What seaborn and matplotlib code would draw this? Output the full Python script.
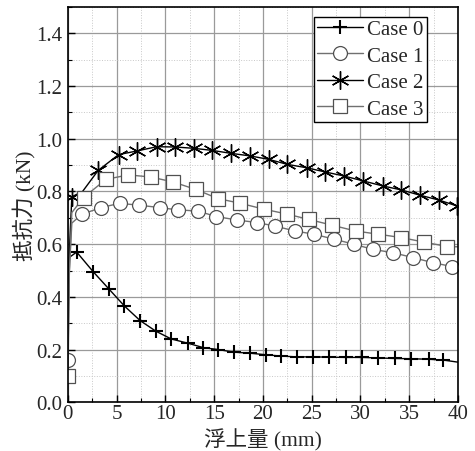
import numpy as np
import pandas as pd
import matplotlib
matplotlib.use("Agg")
import matplotlib.pyplot as plt
import seaborn as sns
from matplotlib.ticker import MultipleLocator

sns.set_style("ticks")
plt.rcParams['font.family'] = ['Liberation Serif', 'Noto Sans CJK JP']

# --- data (x in mm, y in kN) ---
case0_x = [0, 0.15, 0.9, 2.6, 4.2, 5.8, 7.4, 9.0, 10.6, 12.3, 13.9, 15.4, 17.0, 18.7, 20.3,
           21.9, 23.5, 25.1, 26.8, 28.5, 30.2, 31.8, 33.5, 35.2, 37.0, 38.5, 40]
case0_y = [0.30, 0.55, 0.57, 0.495, 0.43, 0.365, 0.31, 0.27, 0.24, 0.224, 0.207, 0.20, 0.19,
           0.186, 0.18, 0.175, 0.172, 0.172, 0.171, 0.170, 0.170, 0.168, 0.166, 0.165, 0.163,
           0.16, 0.152]
case0_marks = list(range(2, 26))

case1_x = [0, 0.15, 0.4, 1.4, 3.4, 5.3, 7.3, 9.4, 11.3, 13.3, 15.2, 17.3, 19.4, 21.2, 23.3,
           25.2, 27.3, 29.3, 31.3, 33.3, 35.4, 37.4, 39.4, 40]
case1_y = [0.16, 0.50, 0.68, 0.713, 0.739, 0.755, 0.748, 0.739, 0.73, 0.726, 0.705, 0.692,
           0.682, 0.669, 0.65, 0.638, 0.619, 0.60, 0.58, 0.568, 0.549, 0.53, 0.515, 0.51]
case1_marks = [0] + list(range(3, 23))

case2_x = [0, 0.4, 1.5, 3.1, 5.2, 7.1, 9.1, 11.0, 12.9, 14.8, 16.7, 18.7, 20.6, 22.5, 24.5,
           26.4, 28.3, 30.3, 32.3, 34.2, 36.1, 38.1, 39.9]
case2_y = [0.45, 0.78, 0.80, 0.88, 0.94, 0.954, 0.970, 0.969, 0.964, 0.956, 0.945, 0.935,
           0.922, 0.903, 0.89, 0.874, 0.859, 0.84, 0.821, 0.806, 0.786, 0.767, 0.745]
case2_marks = [1] + list(range(3, 23))

case3_x = [0, 0.15, 0.4, 1.6, 3.9, 6.2, 8.5, 10.8, 13.1, 15.4, 17.7, 20.1, 22.5, 24.7, 27.1,
           29.5, 31.8, 34.2, 36.5, 38.9, 40]
case3_y = [0.10, 0.50, 0.72, 0.777, 0.846, 0.863, 0.855, 0.836, 0.808, 0.773, 0.755, 0.733,
           0.714, 0.694, 0.672, 0.650, 0.638, 0.625, 0.608, 0.591, 0.59]
case3_marks = [0] + list(range(3, 20))

labels = ["Case 0", "Case 1", "Case 2", "Case 3"]

fig = plt.figure(figsize=(4.75, 4.52), dpi=100)
ax = fig.add_axes([0.143, 0.108, 0.821, 0.874])

series = [
    (case0_x, case0_y, case0_marks, dict(color="black", marker="+", markersize=10, mew=1.5,
                                         mec="black")),
    (case1_x, case1_y, case1_marks, dict(color="#707070", marker="o", markersize=10, mew=0.9,
                                         mfc="white", mec="#505050")),
    (case2_x, case2_y, case2_marks, dict(color="black", marker=(6, 2, 0), markersize=13,
                                         mew=1.0, mec="black")),
    (case3_x, case3_y, case3_marks, dict(color="#707070", marker="s", markersize=9.5, mew=0.9,
                                         mfc="white", mec="#505050")),
]

for (xs, ys, marks, style), lab in zip(series, labels):
    df = pd.DataFrame({"x": xs, "y": ys})
    sns.lineplot(data=df, x="x", y="y", ax=ax, label=lab, lw=1.0, markevery=marks,
                 estimator=None, sort=False, clip_on=True, **style)

ax.set_xlim(0, 40)
ax.set_ylim(0, 1.5)
ax.xaxis.set_major_locator(MultipleLocator(5))
ax.xaxis.set_minor_locator(MultipleLocator(2.5))
ax.yaxis.set_minor_locator(MultipleLocator(0.1))
ax.set_yticks(np.arange(0, 1.41, 0.2))
ax.yaxis.set_major_formatter(matplotlib.ticker.FormatStrFormatter('%.1f'))
ax.grid(which="major", color="#9a9a9a", lw=0.9, ls="-")
ax.grid(which="minor", color="#c8c8c8", lw=0.7, ls=":")
ax.set_axisbelow(True)
ax.tick_params(which="both", direction="in", top=False, right=False, labelsize=15,
               color="black")
ax.tick_params(axis="x", pad=1)
ax.tick_params(axis="y", pad=4)
ax.tick_params(which="major", length=5, width=1)
ax.tick_params(which="minor", length=3, width=0.8)
for s in ax.spines.values():
    s.set_color("black")
    s.set_linewidth(1.2)

ax.set_xlabel("浮上量 (mm)", fontsize=15.5, labelpad=4)
ax.set_ylabel("抵抗力 (kN)", fontsize=15.5, labelpad=0)

leg = ax.legend(loc="upper right", bbox_to_anchor=(0.92, 0.976), fontsize=15,
                frameon=True, fancybox=False, edgecolor="black", framealpha=1,
                handlelength=2.2, handletextpad=0.2, borderpad=0.15, labelspacing=0.33,
                borderaxespad=0)
leg.get_frame().set_linewidth(1.0)

fig.savefig("out.png", dpi=100)
